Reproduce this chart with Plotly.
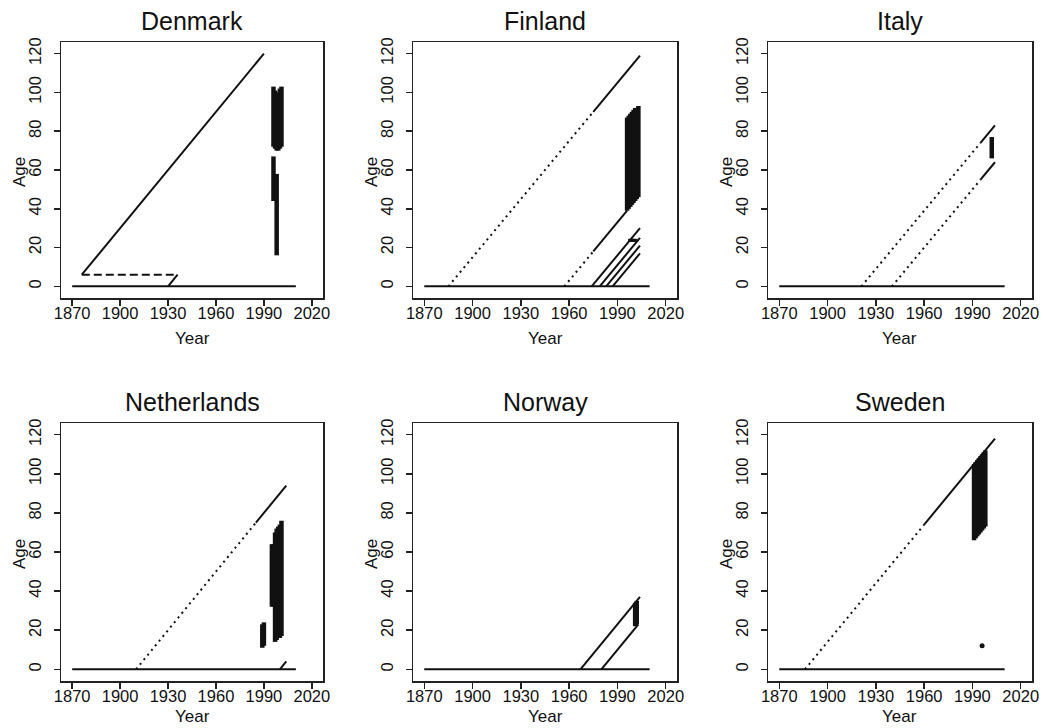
import plotly.graph_objects as go

# ---------------- data (year, age) ----------------
countries = ["Denmark", "Finland", "Italy", "Netherlands", "Norway", "Sweden"]
year_ticks = [1870, 1900, 1930, 1960, 1990, 2020]
age_ticks = [0, 20, 40, 60, 80, 100, 120]

# segments: (year0, age0, year1, age1)
denmark_solid = [(1870, 0, 2010, 0), (1876, 6, 1990, 120), (1930, 0, 1936, 6)]
denmark_dashed = [(1876, 6, 1936, 6)]
denmark_dotted = []
denmark_bar_years = [1996, 1997, 1998, 1999, 2000, 2001, 1996, 1998]
denmark_bar_low = [72, 71, 70, 70, 71, 72, 44, 16]
denmark_bar_high = [103, 101, 99, 100, 102, 103, 67, 58]
denmark_points = []

finland_solid = [(1870, 0, 2010, 0), (1975, 90, 2004, 119), (1975, 18, 1996, 39),
                 (1974, 0, 2004, 30), (1979, 0, 2004, 25), (1983, 0, 2004, 21), (1987, 0, 2004, 17)]
finland_dashed = []
finland_dotted = [(1885, 0, 1975, 90), (1957, 0, 1975, 18)]
finland_bar_years = [1996, 1997, 1998, 1999, 2000, 2001, 2002, 2003, 1998, 1999, 2000, 2001]
finland_bar_low = [39, 40, 41, 42, 43, 44, 45, 46, 23, 23, 23, 23]
finland_bar_high = [87, 88, 89, 90, 91, 92, 92, 93, 24.5, 24.5, 24.5, 24.5]
finland_points = []

italy_solid = [(1870, 0, 2010, 0), (1995, 74, 2004, 83), (1995, 55, 2004, 64)]
italy_dashed = []
italy_dotted = [(1921, 0, 1995, 74), (1940, 0, 1995, 55)]
italy_bar_years = [2002]
italy_bar_low = [66]
italy_bar_high = [77]
italy_points = []

netherlands_solid = [(1870, 0, 2010, 0), (1985, 75, 2004, 94), (2000, 0, 2004, 4)]
netherlands_dashed = []
netherlands_dotted = [(1910, 0, 1985, 75)]
netherlands_bar_years = [1989, 1990, 1995, 1996, 1997, 1998, 1999, 2000, 2001]
netherlands_bar_low = [11, 12, 32, 32, 14, 15, 16, 16, 17]
netherlands_bar_high = [23, 24, 64, 64, 70, 72, 73, 74, 76]
netherlands_points = []

norway_solid = [(1870, 0, 2010, 0), (1967, 0, 2004, 37), (1980, 0, 2003, 23)]
norway_dashed = []
norway_dotted = []
norway_bar_years = [2001, 2002]
norway_bar_low = [22, 23]
norway_bar_high = [34, 35]
norway_points = []

sweden_solid = [(1870, 0, 2010, 0), (1960, 74, 2004, 118)]
sweden_dashed = []
sweden_dotted = [(1886, 0, 1960, 74)]
sweden_bar_years = [1991, 1992, 1993, 1994, 1995, 1996, 1997, 1998]
sweden_bar_low = [66, 67, 68, 69, 70, 71, 72, 73]
sweden_bar_high = [105, 106, 107, 108, 109, 110, 111, 112]
sweden_points = [(1996, 12)]

panels = [
    (denmark_solid, denmark_dashed, denmark_dotted, denmark_bar_years, denmark_bar_low, denmark_bar_high, denmark_points),
    (finland_solid, finland_dashed, finland_dotted, finland_bar_years, finland_bar_low, finland_bar_high, finland_points),
    (italy_solid, italy_dashed, italy_dotted, italy_bar_years, italy_bar_low, italy_bar_high, italy_points),
    (netherlands_solid, netherlands_dashed, netherlands_dotted, netherlands_bar_years, netherlands_bar_low, netherlands_bar_high, netherlands_points),
    (norway_solid, norway_dashed, norway_dotted, norway_bar_years, norway_bar_low, norway_bar_high, norway_points),
    (sweden_solid, sweden_dashed, sweden_dotted, sweden_bar_years, sweden_bar_low, sweden_bar_high, sweden_points),
]

# ---------------- layout geometry ----------------
W, H = 1043, 728


def px_x(p):
    return p / W


def px_y(p):
    return 1 - p / H


col_px = [(61, 323), (413, 677), (768, 1032)]
row_px = [(42, 298), (423, 681)]
col_x = [(px_x(a), px_x(b)) for a, b in col_px]
row_y = [(px_y(b), px_y(a)) for a, b in row_px]
FONT = "Liberation Sans, Arial, Helvetica, sans-serif"


def seg_xy(segs):
    xs, ys = [], []
    for x0, y0, x1, y1 in segs:
        xs += [x0, x1, None]
        ys += [y0, y1, None]
    return xs, ys


def bar_xy(yrs, lo, hi):
    xs, ys = [], []
    for x, a, b in zip(yrs, lo, hi):
        xs += [x, x, None]
        ys += [a, b, None]
    return xs, ys


fig = go.Figure()
annotations = []
year_label_offset = [40, 35]
for i, (name, p) in enumerate(zip(countries, panels)):
    solid, dashed, dotted, byears, blow, bhigh, pts = p
    r, c = divmod(i, 3)
    xa = "x" if i == 0 else f"x{i + 1}"
    ya = "y" if i == 0 else f"y{i + 1}"
    for segs, dash in ((solid, "solid"), (dashed, "8px,4px"), (dotted, "2px,4px")):
        if segs:
            xs, ys = seg_xy(segs)
            fig.add_trace(go.Scatter(x=xs, y=ys, mode="lines", xaxis=xa, yaxis=ya,
                                     line=dict(color="#111", width=2, dash=dash),
                                     hoverinfo="skip"))
    if byears:
        xs, ys = bar_xy(byears, blow, bhigh)
        fig.add_trace(go.Scatter(x=xs, y=ys, mode="lines", xaxis=xa, yaxis=ya,
                                 line=dict(color="#111", width=4.5), hoverinfo="skip"))
    if pts:
        fig.add_trace(go.Scatter(x=[q[0] for q in pts], y=[q[1] for q in pts], mode="markers",
                                 xaxis=xa, yaxis=ya, marker=dict(color="#111", size=5),
                                 hoverinfo="skip"))

    axis_common = dict(showline=True, mirror=True, linecolor="#222", linewidth=1.5,
                       ticks="outside", ticklen=6, tickwidth=1.5, tickcolor="#222",
                       showgrid=False, zeroline=False, automargin=False,
                       tickfont=dict(family=FONT, size=16.5, color="#111"))
    xkey = "xaxis" if i == 0 else f"xaxis{i + 1}"
    ykey = "yaxis" if i == 0 else f"yaxis{i + 1}"
    fig.update_layout(**{
        xkey: dict(axis_common, domain=list(col_x[c]), anchor=ya, range=[1863, 2027],
                   tickvals=year_ticks, tickangle=0, ticklabelstandoff=-6),
        ykey: dict(axis_common, domain=list(row_y[r]), anchor=xa, range=[-6, 126],
                   tickvals=age_ticks, tickangle=-90, ticklabelstandoff=6),
    })
    left, right = col_px[c]
    top, bottom = row_px[r]
    cx = (col_x[c][0] + col_x[c][1]) / 2
    annotations.append(dict(text=name, x=cx, y=row_y[r][1] + 5 / H,
                            xref="paper", yref="paper", xanchor="center", yanchor="bottom",
                            showarrow=False, font=dict(family=FONT, size=25, color="#111")))
    annotations.append(dict(text="Year", x=cx, y=px_y(bottom + year_label_offset[r]),
                            xref="paper", yref="paper", xanchor="center", yanchor="middle",
                            showarrow=False, font=dict(family=FONT, size=17, color="#111")))
    annotations.append(dict(text="Age", x=px_x(left - 42), y=px_y((top + bottom) / 2 + 2),
                            xref="paper", yref="paper", xanchor="center", yanchor="middle",
                            textangle=-90, showarrow=False,
                            font=dict(family=FONT, size=17, color="#111")))

fig.update_layout(template="none", width=W, height=H, margin=dict(l=0, r=0, t=0, b=0),
                  paper_bgcolor="white", plot_bgcolor="white", showlegend=False,
                  annotations=annotations)
fig.write_html("out.html", config={"displayModeBar": False, "staticPlot": True},
               post_script="document.body.style.margin='0';document.body.style.overflow='hidden';"
                           "document.documentElement.style.overflow='hidden';")
